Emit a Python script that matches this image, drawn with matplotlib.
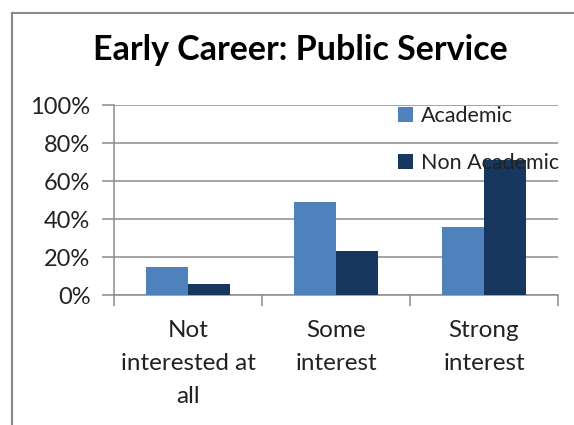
import numpy as np
import matplotlib
matplotlib.use("Agg")
import matplotlib.pyplot as plt
from matplotlib.lines import Line2D

# 数据
categories = ["Not\ninterested at\nall", "Some\ninterest", "Strong\ninterest"]
academic = [15, 49, 36]
non_academic = [6, 23, 71]
series_names = ["Academic", "Non Academic"]
yticks = [0, 20, 40, 60, 80, 100]

COL_ACAD = "#4F81BD"
COL_NON = "#17375E"
GRID = "#8C8C8C"

plt.rcParams["font.family"] = ["Lato", "DejaVu Sans"]

W, H = 574, 425
fig = plt.figure(figsize=(W / 100, H / 100), dpi=100)
ax = fig.add_axes([114 / W, 1 - 295 / H, (558 - 114) / W, (295 - 105) / H])

x = np.arange(len(categories))
bw = 0.284
ax.bar(x - bw / 2, academic, bw, color=COL_ACAD, label=series_names[0], zorder=3)
ax.bar(x + bw / 2, non_academic, bw, color=COL_NON, label=series_names[1], zorder=3)

ax.set_xlim(-0.5, len(categories) - 0.5)
ax.set_ylim(0, 100)
ax.set_yticks(yticks)
ax.set_yticklabels([f"{v}%" for v in yticks], fontsize=17, color="#222222")
ax.yaxis.grid(True, color=GRID, linewidth=1.1, zorder=0)

ax.set_xticks(x)
ax.set_xticklabels(categories, fontsize=17.5, color="#222222", linespacing=1.7)
ax.set_xticks(np.arange(-0.5, len(categories)), minor=True)
ax.tick_params(axis="x", which="major", length=0, pad=18)
ax.tick_params(axis="x", which="minor", length=8, color=GRID, width=1.1)
ax.tick_params(axis="y", length=9, color=GRID, width=1.1, pad=8)

for s in ["top", "right"]:
    ax.spines[s].set_visible(False)
for s in ["left", "bottom"]:
    ax.spines[s].set_color(GRID)
    ax.spines[s].set_linewidth(1.1)

fig.text(300 / W, 1 - 50 / H, "Early Career: Public Service", ha="center", va="center",
         fontsize=24.5, fontweight="bold", color="black")

leg = ax.legend(loc="upper left", bbox_to_anchor=(398 / W, 1 - 106 / H),
                bbox_transform=fig.transFigure, frameon=False, fontsize=15.5,
                handlelength=0.7, handleheight=0.7, handletextpad=0.35,
                labelspacing=1.25, borderaxespad=0, borderpad=0)
for t in leg.get_texts():
    t.set_color("#222222")

# 外框（灰色）
fig.add_artist(Line2D([12 / W, 12 / W], [0, 1 - 13 / H], transform=fig.transFigure,
                      color="#888888", linewidth=1.5))
fig.add_artist(Line2D([12 / W, 1], [1 - 13 / H, 1 - 13 / H], transform=fig.transFigure,
                      color="#888888", linewidth=1.5))

fig.savefig("out.png", dpi=100)
